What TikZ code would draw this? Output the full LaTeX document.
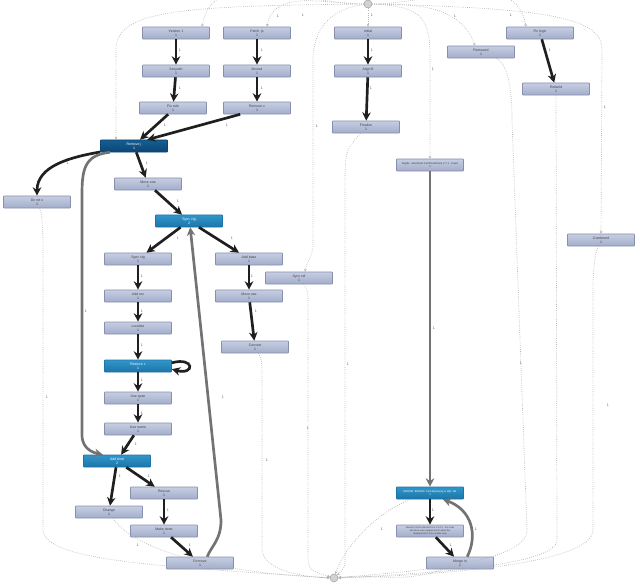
\documentclass[tikz,border=0pt]{standalone}
\usepackage{fontspec}
\setmainfont{Liberation Sans}
\usetikzlibrary{arrows.meta}
\definecolor{boxtop}{HTML}{C6CEE2}
\definecolor{boxbot}{HTML}{A2ADCA}
\definecolor{boxline}{HTML}{8690AE}
\definecolor{hottop}{HTML}{3196CB}
\definecolor{hotbot}{HTML}{1D74A8}
\definecolor{darktop}{HTML}{145E92}
\definecolor{darkbot}{HTML}{0C4674}
\definecolor{ghostgray}{HTML}{B4B4B4}
\tikzset{
  commit/.style={draw=boxline, line width=0.4pt, top color=boxtop, bottom color=boxbot,
    rounded corners=0.4pt, minimum width=1.675cm, minimum height=0.3cm, inner sep=0pt,
    align=center, font=\fontsize{2.5}{3}\selectfont, text=black!75},
  hot/.style={commit, draw=hotbot, top color=hottop, bottom color=hotbot, text=white},
  darkhot/.style={commit, draw=darkbot, top color=darktop, bottom color=darkbot, text=white},
  endpt/.style={circle, draw=gray!70, fill=gray!35, minimum size=0.2cm, inner sep=0pt},
  flow/.style={draw=black!88, line width=1.9pt, -{Stealth[length=6pt,width=6pt]}},
  faded/.style={flow, draw=black!55},
  ghost/.style={draw=ghostgray, densely dotted, line width=0.5pt, -{Stealth[length=2pt,width=2pt]}},
  cnt/.style={font=\fontsize{2.6}{3}\selectfont, text=black!60, inner sep=0.5pt}
}
\begin{document}
\begin{tikzpicture}[x=0.025cm, y=0.025cm]
\useasboundingbox (0,0) rectangle (640,-585);
% start and end
\node[endpt] (start) at (368,-4) {};
\node[endpt] (finish) at (334,-578) {};
% commits
\node[commit] (vone) at (176,-33) {Version 1\\1};
\node[commit] (fetch) at (257,-33) {Fetch .js\\1};
\node[commit] (init) at (368,-33) {Initial\\1};
\node[commit] (fixlog) at (540,-33) {Fix logic\\1};
\node[commit] (removed) at (481,-52) {Removed\\1};
\node[commit] (setpath) at (176,-71) {Set path\\1};
\node[commit] (moved) at (257,-71) {Moved\\1};
\node[commit] (align) at (368,-71) {Align ff\\1};
\node[commit] (rebuild) at (556,-89) {Rebuild\\1};
\node[commit] (fixrule) at (173,-108) {Fix rule\\1};
\node[commit] (remx) at (257,-108) {Remove x\\1};
\node[commit] (final) at (366,-127) {Finalize\\1};
\node[darkhot] (remj) at (134,-146) {Remove j\\1};
\node[commit, font=\fontsize{1.9}{2.5}\selectfont] (bugfix) at (430,-165) {Bugfix: refactored CertificateStore 2.7.1 - Fixed\\1};
\node[commit] (moveone) at (148,-184) {Move one\\1};
\node[commit] (dirref) at (37,-202) {Dir ref x\\1};
\node[hot] (syncctg) at (189,-221) {Sync ctg\\2};
\node[commit] (combined) at (601,-240) {Combined\\1};
\node[commit] (synccfg) at (138,-259) {Sync cfg\\1};
\node[commit] (addbase) at (249,-259) {Add base\\1};
\node[commit] (syncref) at (299,-278) {Sync ref\\1};
\node[commit] (addrev) at (138,-296) {Add rev\\1};
\node[commit] (moveuse) at (249,-296) {Move use\\1};
\node[commit] (localize) at (138,-328) {Localize\\1};
\node[commit] (convert) at (255,-347) {Convert\\1};
\node[hot] (restore) at (138,-366) {Restore c\\1};
\node[commit] (usespan) at (138,-398) {Use span\\1};
\node[commit] (usename) at (138,-429) {Use name\\1};
\node[hot] (addbind) at (117,-461) {Add bind\\2};
\node[commit] (rescue) at (164,-493) {Rescue\\1};
\node[hot, font=\fontsize{1.9}{2.5}\selectfont] (error) at (430,-493) {ERROR: ERROR: Cert deploying to sftp: fail\\1};
\node[commit] (change) at (109,-512) {Change\\1};
\node[commit] (makedone) at (164,-531) {Make done\\1};
\node[commit, font=\fontsize{1.7}{2.1}\selectfont] (longmsg) at (430,-531) {Moved CommonModel from V1.2.0 - the code\\structure was reorganized to allow the\\deployment of one module only};
\node[commit] (remove) at (200,-563) {Remove\\1};
\node[commit] (merge) at (460,-563) {Merge in\\1};
% main flow
\draw[flow] (vone) -- (setpath);
\draw[flow] (setpath) -- (fixrule);
\draw[flow] (fetch) -- (moved);
\draw[flow] (moved) -- (remx);
\draw[flow] (init) -- (align);
\draw[flow] (align) -- (final);
\draw[flow] (fixlog) -- (rebuild);
\draw[flow] ([xshift=-0.12cm]fixrule.south) -- ([xshift=0.15cm]remj.north);
\draw[flow] ([xshift=-0.42cm]remx.south) -- ([xshift=0.33cm]remj.north);
\draw[flow] (remj) to[out=190,in=90] (dirref);
\draw[flow] (remj) -- (moveone);
\draw[flow] (moveone) -- (syncctg);
\draw[flow] (syncctg) -- (synccfg);
\draw[flow] (syncctg) -- (addbase);
\draw[flow] (addbase) -- (moveuse);
\draw[flow] (moveuse) -- (convert);
\draw[flow] (synccfg) -- (addrev);
\draw[flow] (addrev) -- (localize);
\draw[flow] (localize) -- (restore);
\draw[flow] ([yshift=0.08cm]restore.east) .. controls +(15:0.6cm) and +(-15:0.6cm) .. ([yshift=-0.08cm]restore.east);
\draw[flow] (restore) -- (usespan);
\draw[flow] (usespan) -- (usename);
\draw[flow] (usename) -- (addbind);
\draw[flow] (addbind) -- (change);
\draw[flow] (addbind) -- (rescue);
\draw[flow] (rescue) -- (makedone);
\draw[flow] (makedone) -- (remove);
\draw[faded] ([xshift=-0.6cm]remj.south) .. controls (84,-155) and (82,-170) .. (82,-195) -- (82,-435) .. controls (82,-450) and (95,-453) .. ([xshift=-0.35cm]addbind.north);
\draw[faded] ([xshift=0.18cm]remove.north) .. controls (212,-545) and (221,-540) .. (221,-520) -- ([xshift=0.03cm]syncctg.south);
\draw[faded] (bugfix) -- (error);
\draw[flow] (error) -- (longmsg);
\draw[flow] (longmsg) -- (merge);
\draw[faded] ([xshift=0.18cm]merge.north) .. controls (478,-535) and (472,-510) .. ([xshift=0.32cm]error.south);
% from start
\draw[ghost] (start) to[out=180,in=80] ([xshift=0.65cm]vone.north);
\draw[ghost] (start) to[out=180,in=80] ([xshift=0.25cm]fetch.north);
\draw[ghost] (start) -- (init);
\draw[ghost] (start) .. controls (180,-6) and (116,-10) .. (116,-50) -- ([xshift=-0.45cm]remj.north);
\draw[ghost] (start) .. controls (335,-8) and (313,-25) .. (313,-60) -- (313,-245) to[out=-90,in=80] ([xshift=0.15cm]syncref.north);
\draw[ghost] (start) .. controls (425,-6) and (430,-20) .. (430,-60) -- (bugfix);
\draw[ghost] (start) to[out=0,in=110] ([xshift=-0.15cm]removed.north);
\draw[ghost] (start) to[out=0,in=100] ([xshift=-0.35cm]fixlog.north);
\draw[ghost] (start) .. controls (560,-8) and (602,-20) .. (602,-50) -- (combined);
% to finish
\draw[ghost] (dirref) .. controls (42,-215) .. (43,-240) -- (43,-530) .. controls (45,-560) and (150,-566) .. (finish);
\draw[ghost] (change) .. controls (130,-545) and (200,-572) .. (finish);
\draw[ghost] (convert) .. controls (262,-360) .. (262,-380) -- (262,-548) .. controls (262,-570) and (300,-577) .. (finish);
\draw[ghost] (syncref) .. controls (308,-290) .. (308,-310) -- (308,-550) .. controls (308,-570) .. (finish);
\draw[ghost] (final) .. controls (346,-150) .. (345,-175) -- (345,-555) .. controls (345,-568) .. (finish);
\draw[ghost] (error) .. controls (380,-510) and (345,-545) .. (finish);
\draw[ghost] (merge) to[out=200,in=5] (finish);
\draw[ghost] (removed) .. controls (505,-62) and (512,-80) .. (512,-120) -- (527,-530) .. controls (527,-565) and (400,-572) .. (finish);
\draw[ghost] (rebuild) -- (557,-540) .. controls (557,-566) and (420,-574) .. (finish);
\draw[ghost] (combined) .. controls (595,-255) .. (593,-280) -- (593,-530) .. controls (593,-566) and (420,-576) .. (finish);
% edge counts
\foreach \x/\y [count=\i] in {180/50,180/88,262/50,262/88,372/50,371/88,165/125,227/125,550/50,68/163,
  147/163,178/201,178/238,232/238,252/276,256/311,142/276,142/311,142/345,190/364,142/380,142/413,
  86/311,223/397,136/444,120/476,149/476,168/510,190/545,434/328,433/510,451/545,476/529,
  278/16,303/15,372/15,455/16,511/15,433/69,317/126,605/107,47/397,138/545,267/460,308/428,
  348/364,382/529,521/363,608/405}
  \node[cnt] (lbl\i) at (\x,-\y) {1};
\end{tikzpicture}
\end{document}
